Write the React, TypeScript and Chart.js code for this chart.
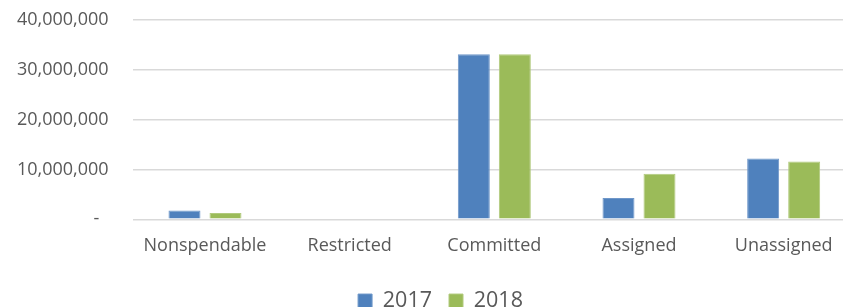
import React, { useEffect, useRef } from "react";
import { Chart, registerables } from "chart.js";

Chart.register(...registerables);

const categories = ["Nonspendable", "Restricted", "Committed", "Assigned", "Unassigned"];
const series2017 = [1740000, 0, 33100000, 4270000, 12200000];
const series2018 = [1270000, 0, 33100000, 9130000, 11600000];
const seriesNames = ["2017", "2018"];
const yTicks = [0, 10000000, 20000000, 30000000, 40000000];

const FONT = "'Open Sans', 'Noto Sans', sans-serif";

const legendShift = {
  id: "legendShift",
  afterLayout(chart: any) {
    if (chart.legend) {
      chart.legend.left += 16;
      chart.legend.right += 16;
    }
  },
};

export default function App() {
  const ref = useRef<HTMLCanvasElement | null>(null);

  useEffect(() => {
    document.body.style.margin = "0";
    const ctx = ref.current!;
    const chart = new Chart(ctx, {
      type: "bar",
      data: {
        labels: categories,
        datasets: [
          {
            label: seriesNames[0],
            data: series2017,
            backgroundColor: "#4F81BD",
            borderColor: "#6F97C9",
            borderWidth: 1,
            barPercentage: 0.78,
            categoryPercentage: 0.567,
          },
          {
            label: seriesNames[1],
            data: series2018,
            backgroundColor: "#9BBB59",
            borderColor: "#B1CA7D",
            borderWidth: 1,
            barPercentage: 0.78,
            categoryPercentage: 0.567,
          },
        ],
      },
      options: {
        responsive: false,
        animation: false,
        maintainAspectRatio: false,
        layout: { padding: { top: 0, right: 0, left: -7, bottom: -14.8 } },
        plugins: {
          tooltip: { enabled: false },
          legend: {
            position: "bottom",
            labels: {
              boxWidth: 14,
              boxHeight: 14,
              padding: 17,
              color: "#595959",
              font: { family: FONT, size: 21.5 },
            },
          },
        },
        scales: {
          x: {
            grid: { display: false },
            border: { display: false },
            title: { display: true, text: " ", font: { size: 7 }, padding: 0 },
            ticks: {
              color: "#595959",
              font: { family: FONT, size: 18 },
              padding: 8,
              maxRotation: 0,
            },
          },
          y: {
            min: 0,
            max: 40000000,
            afterBuildTicks: (axis: any) => {
              axis.ticks = yTicks.map((v) => ({ value: v }));
            },
            grid: { color: "#D9D9D9", lineWidth: 1.5, drawTicks: false },
            border: { display: false },
            ticks: {
              color: "#595959",
              font: { family: FONT, size: 18 },
              padding: 24,
              callback: (v: any) => (Number(v) === 0 ? "-  " : Number(v).toLocaleString("en-US")),
            },
          },
        },
      },
      plugins: [legendShift],
    });
    return () => chart.destroy();
  }, []);

  return (
    <div style={{ position: "absolute", left: 0, top: 0, width: 843, height: 307, overflow: "hidden" }}>
      <canvas
        ref={ref}
        width={856}
        height={322}
        style={{ position: "absolute", left: 0, top: -15, width: 856, height: 322 }}
      />
    </div>
  );
}
